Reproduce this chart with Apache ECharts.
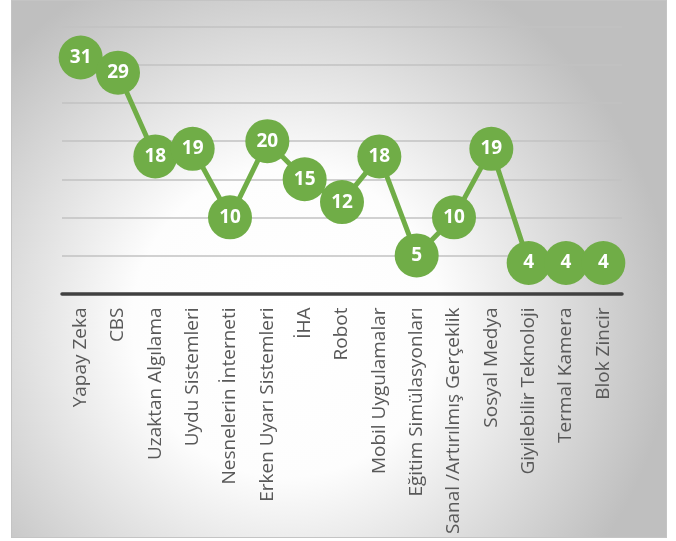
<!DOCTYPE html>
<html>
<head>
<meta charset="utf-8">
<script src="https://cdn.jsdelivr.net/npm/echarts@6/dist/echarts.min.js"></script>
<style>
  html, body { margin: 0; padding: 0; background: #fff; }
  #chart {
    position: absolute; left: 11px; top: 0; width: 656px; height: 538px;
    box-sizing: border-box; border: 1px solid #c4c4c4;
  }
</style>
</head>
<body>
<div id="chart"></div>
<script>
// kategoriler ve değerler
var categories = ['Yapay Zeka', 'CBS', 'Uzaktan Algılama', 'Uydu Sistemleri', 'Nesnelerin İnterneti',
    'Erken Uyarı Sistemleri', 'İHA', 'Robot', 'Mobil Uygulamalar', 'Eğitim Simülasyonları',
    'Sanal /Artırılmış Gerçeklik', 'Sosyal Medya', 'Giyilebilir Teknoloji', 'Termal Kamera', 'Blok Zincir'];
var values = [31, 29, 18, 19, 10, 20, 15, 12, 18, 5, 10, 19, 4, 4, 4];

var myChart = echarts.init(document.getElementById('chart'));
var option = {
    animation: false,
    backgroundColor: {
        type: 'radial', x: 0.42, y: 0.6, r: 0.72,
        colorStops: [
            { offset: 0, color: '#ffffff' },
            { offset: 0.4, color: '#fdfdfd' },
            { offset: 1, color: '#bfbfbf' }
        ]
    },
    grid: { left: 50, right: 44, top: 26, bottom: 242 },
    xAxis: {
        type: 'category',
        data: categories,
        boundaryGap: true,
        axisLine: { lineStyle: { color: '#404040', width: 3.5 } },
        axisTick: { show: false },
        axisLabel: {
            rotate: 90,
            interval: 0,
            margin: 14,
            fontFamily: 'Open Sans',
            fontSize: 19,
            color: '#595959'
        }
    },
    yAxis: {
        type: 'value',
        min: 0,
        max: 35,
        interval: 5,
        axisLabel: { show: false },
        axisLine: { show: false },
        axisTick: { show: false },
        splitLine: { lineStyle: { color: '#c2c2c2', width: 1.5 } }
    },
    series: [
        {
            type: 'line',
            data: values,
            symbol: 'circle',
            symbolSize: 44,
            lineStyle: { color: '#70ad47', width: 5 },
            itemStyle: { color: '#70ad47' },
            label: {
                show: true,
                position: 'inside',
                color: '#ffffff',
                fontFamily: 'Open Sans',
                fontWeight: 'bold',
                fontSize: 19
            }
        }
    ]
};
myChart.setOption(option);
</script>
</body>
</html>
